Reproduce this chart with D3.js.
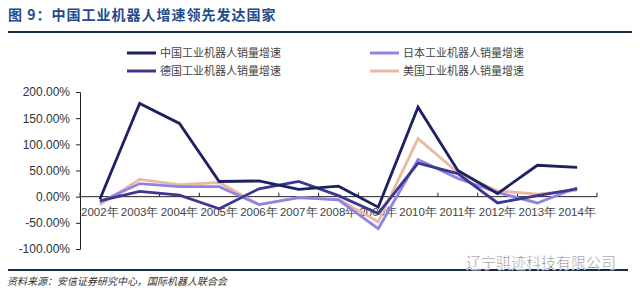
<!DOCTYPE html>
<html>
<head>
<meta charset="utf-8">
<script src="https://cdn.jsdelivr.net/npm/d3@7"></script>
<style>
  body { margin: 0; background: #fff; }
  svg { display: block; font-family: 'Liberation Sans', Arial, sans-serif; }
  .cjk { font-family: 'Noto Sans CJK SC', sans-serif; }
</style>
</head>
<body>
<div id="chart"></div>
<script>
const years = ['2002年', '2003年', '2004年', '2005年', '2006年', '2007年', '2008年',
  '2009年', '2010年', '2011年', '2012年', '2013年', '2014年']
const yTicks = [-100, -50, 0, 50, 100, 150, 200]

// growth rates in %
const china = [-5, 178, 140, 29, 30, 14, 20, -20, 171, 50, 6, 60, 56]
const germany = [-8, 10, 3, -23, 15, 29, 2, -32, 64, 44, -12, 2, 15]
const japan = [-10, 25, 19, 19, -15, -2, -6, -61, 71, 35, 8, -12, 17]
const usa = [-15, 33, 23, 27, -15, -2, -5, -48, 111, 46, 11, 5, 12]

const series = [
  { name: '美国工业机器人销量增速', values: usa, color: '#ebb9a2' },
  { name: '日本工业机器人销量增速', values: japan, color: '#8d84e6' },
  { name: '德国工业机器人销量增速', values: germany, color: '#3c3890' },
  { name: '中国工业机器人销量增速', values: china, color: '#1c2161' },
]

const width = 640
const height = 292
const svg = d3.select('#chart').append('svg').attr('width', width).attr('height', height)

// title + rule
svg.append('text')
  .attr('class', 'cjk')
  .attr('x', 8).attr('y', 20)
  .attr('font-size', 14).attr('font-weight', 'bold')
  .attr('letter-spacing', 1)
  .attr('fill', '#234a8c')
  .text('图 9：中国工业机器人增速领先发达国家')
svg.append('rect').attr('x', 8).attr('y', 31).attr('width', 624).attr('height', 2).attr('fill', '#1a2a4a')

const x = d3.scaleBand().domain(years).range([80, 597]).padding(0)
const y = d3.scaleLinear().domain([-100, 200]).range([249, 92])

// y axis
const yAxis = d3.axisLeft(y).tickValues(yTicks).tickSize(4).tickFormat(d => d.toFixed(2) + '%')
const gy = svg.append('g').attr('transform', 'translate(80,0)').call(yAxis)
gy.select('.domain').attr('stroke', '#222')
gy.selectAll('.tick line').attr('stroke', '#222')
gy.selectAll('.tick text').attr('font-size', 12).attr('fill', '#333').attr('x', -10)

// x axis at zero
const gx = svg.append('g').attr('transform', `translate(0,${y(0)})`)
gx.append('line').attr('x1', 80).attr('x2', 597).attr('stroke', '#222')
const bounds = years.map(d => x(d)).concat([x.range()[1]])
gx.selectAll('.xt').data(bounds).join('line')
  .attr('x1', d => d).attr('x2', d => d)
  .attr('y1', 0).attr('y2', -4)
  .attr('stroke', '#222')
gx.selectAll('.xl').data(years).join('text')
  .attr('x', d => x(d) + x.bandwidth() / 2)
  .attr('y', 19)
  .attr('text-anchor', 'middle')
  .attr('font-size', 11.5)
  .attr('fill', '#444')
  .text(d => d)

// lines
const line = d3.line()
  .x((d, i) => x(years[i]) + x.bandwidth() / 2)
  .y(d => y(d))

svg.selectAll('.series').data(series).join('path')
  .attr('d', d => line(d.values))
  .attr('fill', 'none')
  .attr('stroke', d => d.color)
  .attr('stroke-width', 2.8)
  .attr('stroke-linejoin', 'miter')

// legend
const legend = [
  { name: '中国工业机器人销量增速', color: '#1c2161', x: 127, y: 53 },
  { name: '日本工业机器人销量增速', color: '#8d84e6', x: 370, y: 53 },
  { name: '德国工业机器人销量增速', color: '#3c3890', x: 127, y: 71 },
  { name: '美国工业机器人销量增速', color: '#ebb9a2', x: 370, y: 71 },
]
const lg = svg.selectAll('.lg').data(legend).join('g')
  .attr('transform', d => `translate(${d.x},${d.y})`)
lg.append('line').attr('x1', 0).attr('x2', 29).attr('stroke', d => d.color).attr('stroke-width', 3)
lg.append('text')
  .attr('class', 'cjk')
  .attr('x', 33).attr('y', 4)
  .attr('font-size', 11).attr('fill', '#444')
  .text(d => d.name)

// footer
svg.append('rect').attr('x', 8).attr('y', 269).attr('width', 620).attr('height', 2).attr('fill', '#1a2a4a')
svg.append('text')
  .attr('class', 'cjk')
  .attr('x', 466).attr('y', 268)
  .attr('font-size', 15)
  .attr('fill', '#555')
  .attr('stroke', '#fff').attr('stroke-width', 0.6)
  .text('辽宁骐迹科技有限公司')
svg.append('text')
  .attr('class', 'cjk')
  .attr('x', 7).attr('y', 285)
  .attr('font-size', 10)
  .attr('font-style', 'italic')
  .attr('fill', '#333')
  .text('资料来源：安信证券研究中心，国际机器人联合会')
</script>
</body>
</html>
